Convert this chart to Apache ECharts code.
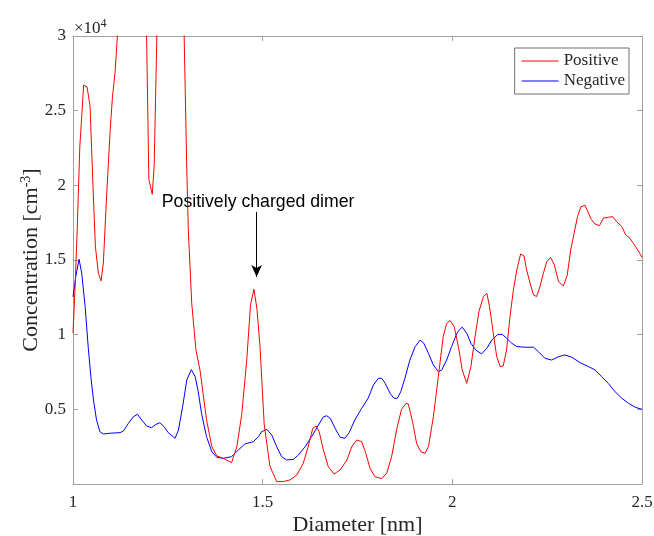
<!DOCTYPE html>
<html>
<head>
<meta charset="utf-8">
<script src="https://cdn.jsdelivr.net/npm/echarts@6/dist/echarts.min.js"></script>
<style>
  html, body { margin: 0; padding: 0; background: #fff; }
  #chart { width: 654px; height: 536px; }
</style>
</head>
<body>
<div id="chart"></div>
<script>
// Ion concentration spectra (units of 10^4 cm^-3) versus mobility diameter (nm)
const posDiameter = [
  1.000, 1.006, 1.011, 1.018, 1.023, 1.028, 1.037, 1.045, 1.052, 1.059,
  1.067, 1.074, 1.080, 1.089, 1.098, 1.104, 1.111, 1.117, 1.130, 1.155,
  1.180, 1.194, 1.200, 1.209, 1.214, 1.221, 1.240, 1.265, 1.285, 1.293,
  1.300, 1.304, 1.313, 1.324, 1.335, 1.352, 1.366, 1.379, 1.396, 1.418,
  1.432, 1.445, 1.458, 1.468, 1.477, 1.485, 1.493, 1.504, 1.519, 1.537,
  1.554, 1.572, 1.590, 1.607, 1.620, 1.632, 1.641, 1.649, 1.660, 1.673,
  1.688, 1.704, 1.722, 1.735, 1.748, 1.761, 1.772, 1.783, 1.796, 1.814,
  1.827, 1.840, 1.853, 1.866, 1.878, 1.884, 1.896, 1.906, 1.917, 1.928,
  1.937, 1.950, 1.963, 1.976, 1.985, 1.994, 2.005, 2.016, 2.026, 2.038,
  2.049, 2.060, 2.070, 2.082, 2.091, 2.098, 2.108, 2.117, 2.126, 2.134,
  2.143, 2.152, 2.161, 2.170, 2.180, 2.189, 2.196, 2.205, 2.214, 2.222,
  2.231, 2.240, 2.249, 2.259, 2.269, 2.280, 2.293, 2.303, 2.312, 2.321,
  2.330, 2.339, 2.350, 2.359, 2.366, 2.376, 2.388, 2.398, 2.411, 2.423,
  2.433, 2.447, 2.457, 2.468, 2.477, 2.489, 2.500
];
const posConc = [
  1.01, 1.35, 1.70, 2.26, 2.46, 2.67, 2.66, 2.53, 2.04, 1.59,
  1.41, 1.36, 1.48, 1.95, 2.37, 2.59, 2.76, 3.00, 3.60, 4.00,
  3.60, 3.00, 2.04, 1.94, 2.13, 3.00, 3.70, 4.10, 3.60, 3.00,
  2.10, 1.70, 1.21, 0.90, 0.76, 0.43, 0.25, 0.188, 0.172, 0.143,
  0.25, 0.47, 0.83, 1.20, 1.304, 1.17, 0.92, 0.40, 0.12, 0.016,
  0.016, 0.027, 0.06, 0.139, 0.25, 0.373, 0.388, 0.35, 0.228, 0.116,
  0.067, 0.094, 0.16, 0.25, 0.295, 0.283, 0.205, 0.105, 0.049, 0.036,
  0.072, 0.183, 0.362, 0.50, 0.54, 0.536, 0.406, 0.27, 0.216, 0.205,
  0.25, 0.45, 0.72, 0.987, 1.076, 1.094, 1.054, 0.92, 0.764, 0.674,
  0.786, 0.987, 1.154, 1.255, 1.277, 1.188, 1.009, 0.853, 0.786, 0.79,
  0.897, 1.12, 1.30, 1.433, 1.54, 1.527, 1.433, 1.344, 1.266, 1.255,
  1.321, 1.411, 1.489, 1.518, 1.467, 1.355, 1.326, 1.40, 1.567, 1.679,
  1.79, 1.857, 1.866, 1.813, 1.773, 1.741, 1.73, 1.78, 1.786, 1.79,
  1.757, 1.723, 1.668, 1.646, 1.612, 1.567, 1.518
];
const negDiameter = [
  1.000, 1.008, 1.016, 1.023, 1.032, 1.040, 1.047, 1.054, 1.062, 1.071,
  1.080, 1.098, 1.124, 1.133, 1.146, 1.159, 1.170, 1.181, 1.194, 1.207,
  1.219, 1.229, 1.240, 1.251, 1.269, 1.278, 1.289, 1.300, 1.312, 1.322,
  1.330, 1.339, 1.352, 1.366, 1.379, 1.396, 1.418, 1.436, 1.453, 1.475,
  1.489, 1.497, 1.511, 1.524, 1.537, 1.550, 1.563, 1.581, 1.594, 1.612,
  1.629, 1.647, 1.660, 1.669, 1.678, 1.691, 1.704, 1.717, 1.728, 1.743,
  1.761, 1.778, 1.792, 1.805, 1.814, 1.823, 1.836, 1.846, 1.855, 1.864,
  1.875, 1.888, 1.902, 1.915, 1.925, 1.937, 1.950, 1.963, 1.972, 1.985,
  1.998, 2.012, 2.018, 2.026, 2.038, 2.049, 2.062, 2.077, 2.091, 2.104,
  2.120, 2.132, 2.143, 2.157, 2.170, 2.192, 2.214, 2.227, 2.244, 2.262,
  2.280, 2.297, 2.315, 2.337, 2.359, 2.376, 2.394, 2.411, 2.429, 2.447,
  2.464, 2.482, 2.500
];
const negConc = [
  1.254, 1.40, 1.505, 1.411, 1.188, 0.92, 0.72, 0.563, 0.429, 0.35,
  0.335, 0.34, 0.344, 0.355, 0.406, 0.45, 0.467, 0.429, 0.389, 0.377,
  0.40, 0.41, 0.384, 0.344, 0.306, 0.362, 0.518, 0.697, 0.766, 0.72,
  0.62, 0.47, 0.317, 0.216, 0.179, 0.172, 0.183, 0.228, 0.268, 0.283,
  0.317, 0.35, 0.366, 0.328, 0.25, 0.183, 0.161, 0.165, 0.194, 0.25,
  0.317, 0.395, 0.45, 0.457, 0.44, 0.373, 0.313, 0.306, 0.344, 0.429,
  0.507, 0.574, 0.663, 0.708, 0.708, 0.674, 0.607, 0.574, 0.574, 0.618,
  0.708, 0.83, 0.92, 0.964, 0.942, 0.875, 0.797, 0.752, 0.764, 0.83,
  0.92, 1.009, 1.031, 1.05, 1.009, 0.942, 0.897, 0.871, 0.909, 0.964,
  1.002, 1.002, 0.976, 0.942, 0.92, 0.916, 0.916, 0.886, 0.842, 0.83,
  0.853, 0.864, 0.849, 0.812, 0.786, 0.764, 0.719, 0.674, 0.618, 0.574,
  0.541, 0.514, 0.50
];
const seriesNames = ['Positive', 'Negative'];
const xTicks = [1, 1.5, 2, 2.5];
const yTicks = [0.5, 1, 1.5, 2, 2.5, 3];
// Annotated dimer peak: label text and arrow span (diameter, concentration)
const dimerLabel = 'Positively charged dimer';
const dimerArrow = { x: 1.484, yFrom: 1.822, yTo: 1.386, yText: 1.889, xText: 1.488 };

const zip = (xs, ys) => xs.map((x, i) => [x, ys[i]]);

const serif = '"Liberation Serif", "Times New Roman", serif';
const sans = '"Liberation Sans", Arial, sans-serif';
const boxColor = '#a0a0a0';
const textColor = '#262626';

const chart = echarts.init(document.getElementById('chart'), null, { renderer: 'canvas' });

const baseAxis = {
  axisLine: { show: true, onZero: false, lineStyle: { color: boxColor, width: 1 } },
  axisTick: { show: true, inside: true, length: 5, lineStyle: { color: boxColor } },
  splitLine: { show: false }
};

chart.setOption({
  animation: false,
  backgroundColor: '#fff',
  grid: { left: 73, right: 12, top: 36, bottom: 52, containLabel: false, outerBoundsMode: 'none' },
  legend: {
    data: seriesNames,
    orient: 'vertical',
    right: 25,
    top: 48,
    icon: 'rect',
    itemWidth: 37,
    itemHeight: 1,
    itemGap: 2,
    padding: [4, 4, 4, 7],
    borderColor: '#707070',
    borderWidth: 1,
    backgroundColor: '#fff',
    textStyle: { fontFamily: serif, fontSize: 17, lineHeight: 18, color: textColor }
  },
  xAxis: [
    Object.assign({}, baseAxis, {
      type: 'value', min: 1, max: 2.5, interval: 0.5,
      name: 'Diameter [nm]', nameLocation: 'middle', nameGap: 30, nameMoveOverlap: false,
      nameTextStyle: { fontFamily: serif, fontSize: 22, color: textColor },
      axisLabel: {
        fontFamily: serif, fontSize: 17, color: textColor, margin: 10,
        formatter: v => (xTicks.includes(v) ? String(v) : '')
      }
    }),
    Object.assign({}, baseAxis, {
      type: 'value', min: 1, max: 2.5, interval: 0.5, position: 'top',
      axisLabel: { show: false }
    })
  ],
  yAxis: [
    Object.assign({}, baseAxis, {
      type: 'value', min: 0, max: 3, interval: 0.5,
      name: '{b|Concentration [cm}{s|-3}{b|]}', nameLocation: 'middle', nameGap: 29, nameMoveOverlap: false,
      nameTextStyle: {
        rich: {
          b: { fontFamily: serif, fontSize: 22, color: textColor },
          s: { fontFamily: serif, fontSize: 14, color: textColor, verticalAlign: 'top', padding: [0, 0, 11, 0] }
        }
      },
      axisLabel: {
        fontFamily: serif, fontSize: 17, color: textColor, margin: 7,
        formatter: v => (yTicks.includes(v) ? String(v) : '')
      }
    }),
    Object.assign({}, baseAxis, {
      type: 'value', min: 0, max: 3, interval: 0.5, position: 'right',
      axisLabel: { show: false }
    })
  ],
  graphic: [{
    type: 'text',
    left: 74,
    top: 18,
    style: {
      text: '{m|×10}{e|4}',
      rich: {
        m: { fontFamily: serif, fontSize: 17, fill: textColor },
        e: { fontFamily: serif, fontSize: 12, fill: textColor, verticalAlign: 'top', padding: [0, 0, 9, 0] }
      }
    }
  }],
  series: [
    {
      name: seriesNames[0],
      type: 'line',
      data: zip(posDiameter, posConc),
      symbol: 'none',
      clip: true,
      lineStyle: { color: '#ff0000', width: 1 },
      itemStyle: { color: '#ff0000' },
      z: 3,
      markLine: {
        silent: true,
        symbol: ['none', 'arrow'],
        symbolSize: [8, 12],
        lineStyle: { color: '#000', width: 1, type: 'solid' },
        label: { show: false },
        data: [[
          { coord: [dimerArrow.x, dimerArrow.yFrom] },
          { coord: [dimerArrow.x, dimerArrow.yTo] }
        ]]
      },
      markPoint: {
        silent: true,
        symbol: 'circle',
        symbolSize: 0,
        data: [{
          coord: [dimerArrow.xText, dimerArrow.yText],
          label: {
            show: true,
            formatter: dimerLabel,
            position: 'inside',
            fontFamily: sans,
            fontSize: 17.7,
            color: '#000'
          }
        }]
      }
    },
    {
      name: seriesNames[1],
      type: 'line',
      data: zip(negDiameter, negConc),
      symbol: 'none',
      clip: true,
      lineStyle: { color: '#0000ff', width: 1 },
      itemStyle: { color: '#0000ff' },
      z: 2
    }
  ]
});
</script>
</body>
</html>
